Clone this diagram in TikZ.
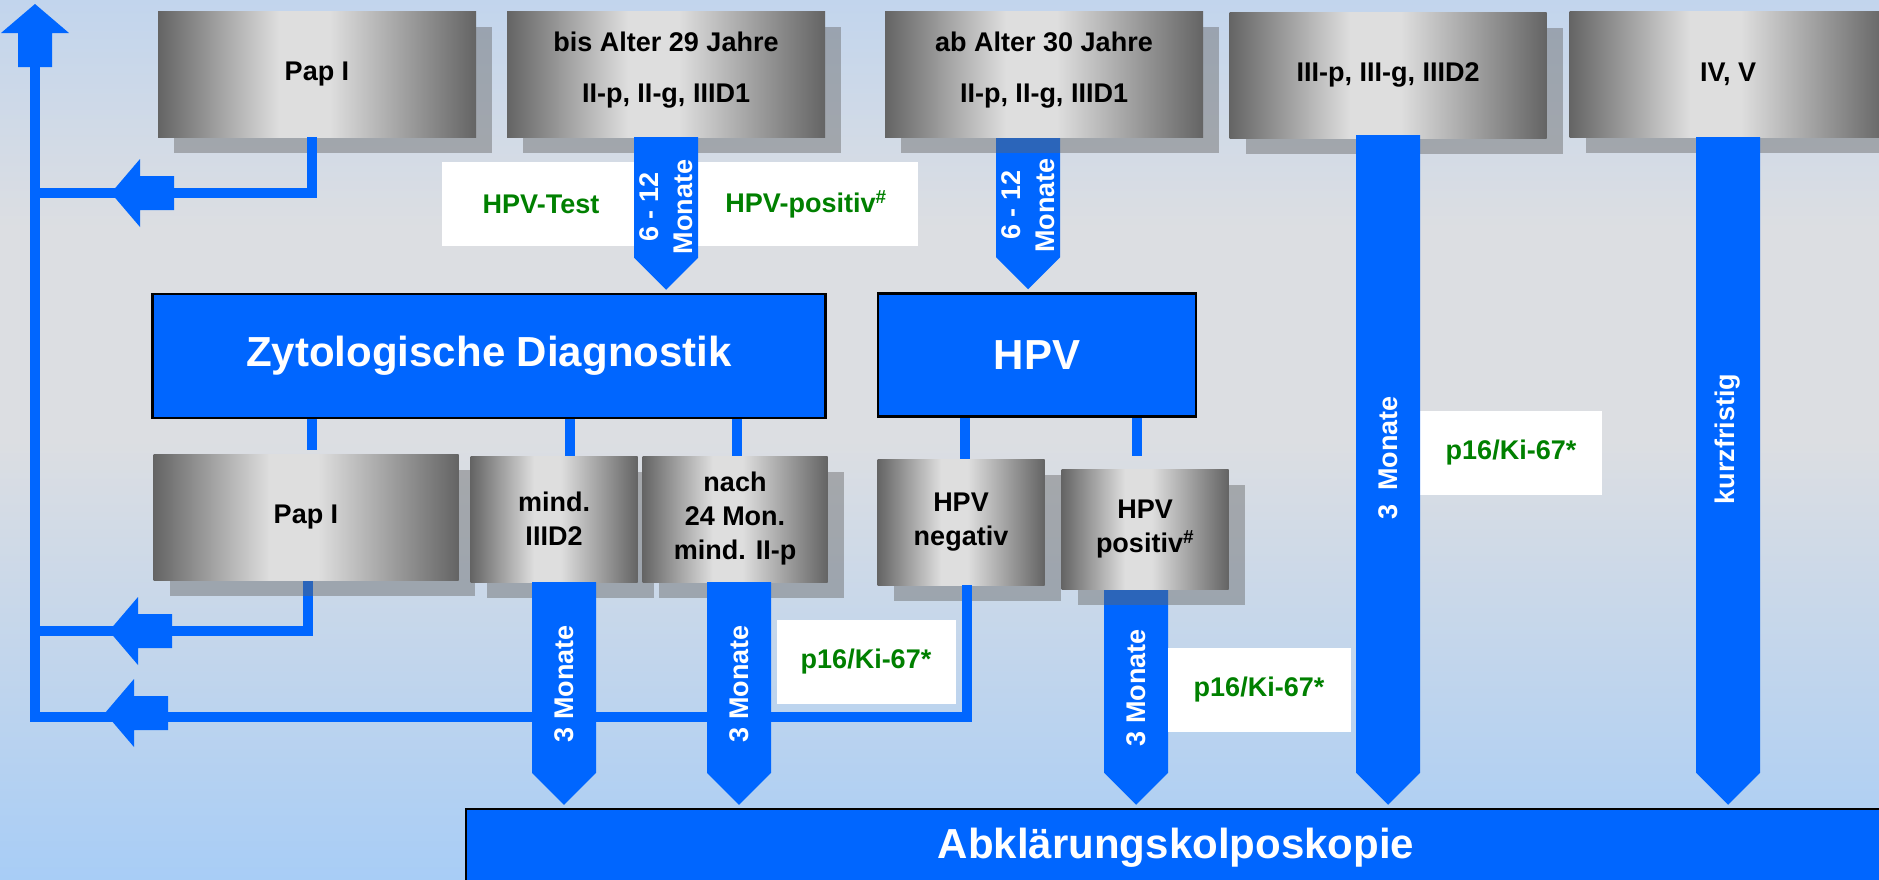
\documentclass[tikz,border=0pt]{standalone}
\usepackage{fontspec}
\setmainfont{Liberation Sans}
\usetikzlibrary{calc,shadows}

\definecolor{blau}{RGB}{0,102,255}
\definecolor{gruen}{RGB}{0,128,0}
\definecolor{gdunkel}{RGB}{100,100,100}
\definecolor{ghell}{RGB}{222,222,222}
\definecolor{schatten}{RGB}{100,100,100}
\definecolor{bgoben}{RGB}{194,213,237}
\definecolor{bgmitte}{RGB}{220,222,226}
\definecolor{bgunten}{RGB}{168,205,246}

\pgfdeclarehorizontalshading{grauverlauf}{100bp}{color(0bp)=(gdunkel); color(25bp)=(gdunkel); color(44bp)=(ghell); color(52bp)=(ghell); color(75bp)=(gdunkel); color(100bp)=(gdunkel)}
\pgfdeclareverticalshading{hintergrund}{100bp}{color(0bp)=(bgunten); color(25bp)=(bgunten); color(50bp)=(bgmitte); color(62bp)=(bgmitte); color(75bp)=(bgoben); color(100bp)=(bgoben)}

\pgfdeclarelayer{hinten}
\pgfdeclarelayer{unten}
\pgfsetlayers{hinten,unten,main}

\newcommand\boxfont{\fontsize{27}{34}\selectfont\bfseries}
\newcommand\grossfont{\fontsize{42}{50}\selectfont\bfseries}

\newcommand\pfeil[4][.45]{%
  \fill[blau] let \p1=(#2), \p2=(#3) in
    (\x1-32pt,\y1) -- (\x1+32pt,\y1) -- (\x1+32pt,\y2+35pt) -- (\x1,\y2+3pt) -- (\x1-32pt,\y2+35pt) -- cycle;
  \path (#2) -- (#3) node[pos=#1, pfeiltext] {#4};
}
\newcommand\rueck[2][0]{%
  \fill[blau, rotate around={#1:(#2)}] (#2) -- ++(29,-34) -- ++(0,17) -- ++(34,0) -- ++(0,34) -- ++(-34,0) -- ++(0,17) -- cycle;
}

\begin{document}
\begin{tikzpicture}[x=1pt, y=-1pt,
   graubox/.style={shade, shading=grauverlauf, minimum height=126pt, inner sep=0pt, align=center, font=\boxfont,
      drop shadow={shadow xshift=16pt, shadow yshift=-16pt, fill=schatten, opacity=.44}},
   blaubox/.style={fill=blau, draw=black, line width=2.5pt, text=white, font=\grossfont, inner sep=0pt},
   weissbox/.style={fill=white, text=gruen, font=\boxfont, inner sep=0pt, minimum height=84pt},
   pfeiltext/.style={rotate=90, text=white, font=\boxfont, align=center, inner sep=0pt},
   linie/.style={draw=blau, line width=10pt}]
   \useasboundingbox (0,0) rectangle (1879,879);
   \begin{pgfonlayer}{hinten}
   \shade[shading=hintergrund] (0,0) rectangle (1879,879);
   \end{pgfonlayer}

   \node[weissbox, minimum width=198pt] (testbox) at (541,204) {HPV-Test};
   \node[weissbox, minimum width=224pt] (posbox) at (806,204) {HPV-positiv\textsuperscript{\#}};
   \node[weissbox, minimum width=179pt] (p16a) at (866,662) {p16/Ki-67*};
   \node[weissbox, minimum width=183pt] (p16b) at (1259,690) {p16/Ki-67*};
   \node[weissbox, minimum width=182pt] (p16c) at (1511,453) {p16/Ki-67*};

   \node[graubox, minimum width=318pt] (papOben) at (317,74) {Pap I};
   \node[graubox, minimum width=318pt, text depth=14pt] (bis29) at (666,74) {bis Alter 29 Jahre\\[17pt]II-p, II-g, IIID1};
   \node[graubox, minimum width=318pt, text depth=14pt] (ab30) at (1044,74) {ab Alter 30 Jahre\\[17pt]II-p, II-g, IIID1};
   \node[graubox, minimum width=317pt] (IIIp) at (1388,75) {III-p, III-g, IIID2};
   \node[graubox, minimum width=317pt] (IVV) at (1728,74) {IV, V};

   \node[graubox, minimum width=305pt] (papUnten) at (306,517) {Pap I};
   \node[graubox, minimum width=167pt] (mind) at (554,519) {mind.\\IIID2};
   \node[graubox, minimum width=185pt] (nach) at (735,519) {nach\\24 Mon.\\mind. II-p};
   \node[graubox, minimum width=167pt] (hpvneg) at (961,522) {HPV\\negativ};
   \node[graubox, minimum width=167pt, minimum height=120pt] (hpvpos) at (1145,529) {HPV\\positiv\textsuperscript{\#}};

   \node[blaubox, minimum width=673pt, minimum height=124pt] (zyto) at (489,356) {Zytologische Diagnostik};
   \node[blaubox, minimum width=318pt, minimum height=123pt] (hpv) at (1037,355) {HPV};
   \node[blaubox, minimum width=1420pt, minimum height=78pt] (abkl) at (1176,848) {Abklärungskolposkopie};

   \coordinate (stamm) at (35,67);
   \begin{pgfonlayer}{unten}
   \draw[linie] ([xshift=2pt]papUnten.south) -- ++(0,51) -| (stamm);
   \rueck{109,631}
   \pfeil[.44]{[xshift=-16pt]ab30.south}{[xshift=-16pt]ab30.south |- hpv.north}{6 - 12\\Monate}
   \pfeil{[xshift=-9pt]hpvpos.south}{[xshift=-9pt]hpvpos.south |- abkl.north}{3 Monate}
   \end{pgfonlayer}

   \draw[linie] ([xshift=-5pt]papOben.south) -- ++(0,56) -| (stamm);
   \draw[linie] ([xshift=6pt]hpvneg.south) -- ++(0,132) -| (stamm);
   \rueck{111,193}
   \rueck{105,713}
   \rueck[-90]{35,4}

   \draw[linie] ([xshift=6pt,yshift=4pt]papUnten.north) -- ([xshift=6pt]papUnten.north |- zyto.south);
   \draw[linie] ([xshift=16pt]mind.north) -- ([xshift=16pt]mind.north |- zyto.south);
   \draw[linie] ([xshift=2pt]nach.north) -- ([xshift=2pt]nach.north |- zyto.south);
   \draw[linie] ([xshift=4pt]hpvneg.north) -- ([xshift=4pt]hpvneg.north |- hpv.south);
   \draw[linie] ([xshift=-8pt,yshift=13pt]hpvpos.north) -- ([xshift=-8pt]hpvpos.north |- hpv.south);

   \pfeil{bis29.south}{bis29.south |- zyto.north}{6 - 12\\Monate}
   \pfeil{[xshift=10pt]mind.south}{[xshift=10pt]mind.south |- abkl.north}{3 Monate}
   \pfeil{[xshift=4pt]nach.south}{[xshift=4pt]nach.south |- abkl.north}{3 Monate}
   \pfeil[.48]{[yshift=3pt]IIIp.south}{IIIp.south |- abkl.north}{3\hspace{14pt}Monate}
   \pfeil{IVV.south}{IVV.south |- abkl.north}{kurzfristig}
\end{tikzpicture}
\end{document}
